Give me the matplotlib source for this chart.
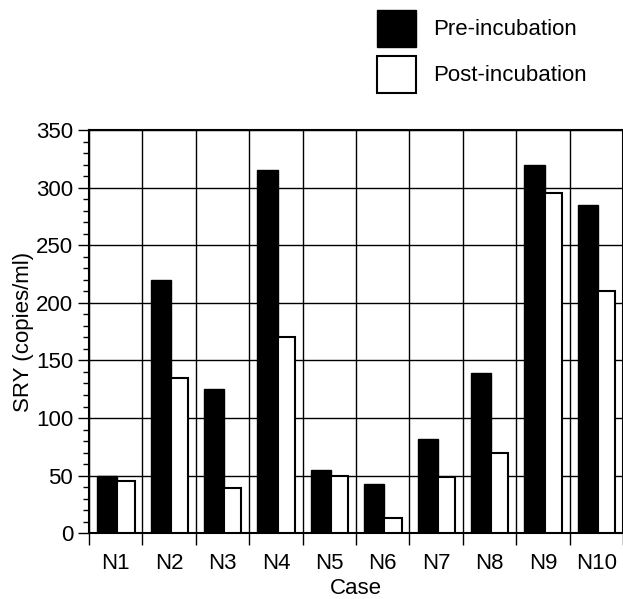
import matplotlib
matplotlib.use("Agg")
import matplotlib.pyplot as plt
import numpy as np
from matplotlib.ticker import MultipleLocator

# values
cases = ['N1', 'N2', 'N3', 'N4', 'N5', 'N6', 'N7', 'N8', 'N9', 'N10']
pre = [50, 220, 125, 315, 55, 43, 82, 139, 320, 285]
post = [45, 135, 39, 170, 50, 13, 49, 70, 295, 210]

plt.rcParams['font.family'] = ['Liberation Sans', 'DejaVu Sans']
plt.rcParams['font.size'] = 16

fig = plt.figure(figsize=(6.23, 5.99), dpi=100)
ax = fig.add_axes([0.1429, 0.1097, 0.8571, 0.6733])

x = np.arange(len(cases))
ax.bar(x - 0.345, pre, 0.375, align='edge', color='black', edgecolor='black',
       linewidth=1, label='Pre-incubation', zorder=3)
ax.bar(x + 0.03, post, 0.325, align='edge', color='white', edgecolor='black',
       linewidth=1.5, label='Post-incubation', zorder=3)

ax.set_xlim(-0.5, len(cases) - 0.5)
ax.set_ylim(0, 350)

# vertical grid lines sit on the case boundaries
ax.set_xticks(np.arange(len(cases) + 1) - 0.5)
ax.set_xticklabels([])
ax.set_xticks(x, minor=True)
ax.set_xticklabels(cases, minor=True)
ax.tick_params(axis='x', which='major', direction='out', length=8.5, width=1)
ax.tick_params(axis='x', which='minor', length=0, pad=14)

ax.set_yticks(np.arange(0, 351, 50))
ax.yaxis.set_minor_locator(MultipleLocator(10))
ax.tick_params(axis='y', which='major', direction='out', length=8, width=1, pad=3.5)
ax.tick_params(axis='y', which='minor', direction='out', length=4.3, width=1)

ax.grid(True, which='major', color='black', linewidth=1, zorder=0)
ax.set_axisbelow(True)
for s in ax.spines.values():
    s.set_linewidth(1.5)

ax.set_xlabel('Case', labelpad=3)
ax.set_ylabel('SRY (copies/ml)', labelpad=1)

fig.legend(loc='upper left', bbox_to_anchor=(377 / 623, 1 - 10 / 599),
           frameon=False, borderpad=0, borderaxespad=0,
           handlelength=1.75, handleheight=2.19, labelspacing=0.4,
           handletextpad=0.77)

fig.savefig('out.png', dpi=100)
